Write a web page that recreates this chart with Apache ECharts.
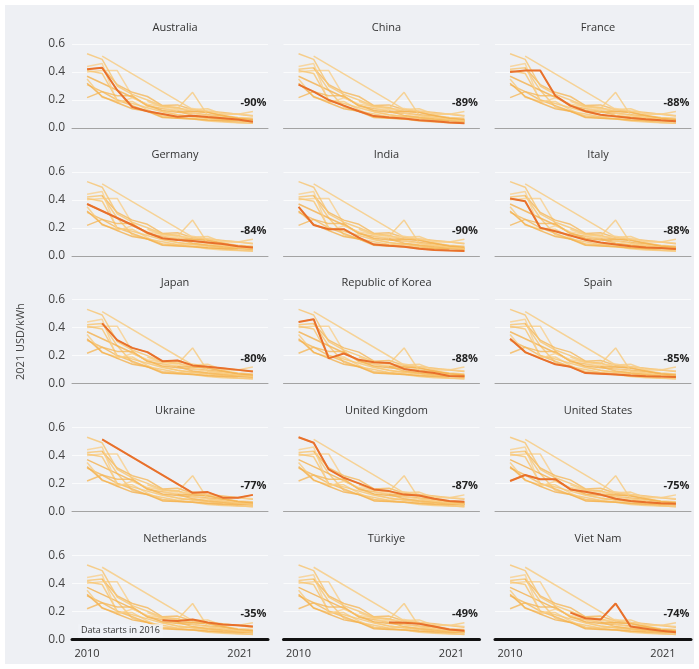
<!DOCTYPE html>
<html>
<head>
<meta charset="utf-8">
<script src="https://cdn.jsdelivr.net/npm/echarts@6/dist/echarts.min.js"></script>
<style>
html, body { margin: 0; padding: 0; background: #fff; }
#bg { position: absolute; left: 5px; top: 5px; width: 689px; height: 659px; background: #eef0f4; }
#chart { position: absolute; left: 0; top: 0; width: 699px; height: 669px; }
</style>
</head>
<body>
<div id="bg"></div>
<div id="chart"></div>
<script>
const years = [2010, 2011, 2012, 2013, 2014, 2015, 2016, 2017, 2018, 2019, 2020, 2021];

const countries = ['Australia', 'China', 'France', 'Germany', 'India', 'Italy', 'Japan',
    'Republic of Korea', 'Spain', 'Ukraine', 'United Kingdom', 'United States',
    'Netherlands', 'Türkiye', 'Viet Nam'];

// USD/kWh, 2010..2021 (null = no data)
const australia = [0.42, 0.43, 0.27, 0.15, 0.12, 0.10, 0.08, 0.088, 0.078, 0.07, 0.06, 0.045];
const china = [0.31, 0.26, 0.20, 0.16, 0.12, 0.085, 0.075, 0.068, 0.055, 0.048, 0.040, 0.034];
const france = [0.40, 0.41, 0.41, 0.23, 0.16, 0.12, 0.095, 0.083, 0.072, 0.063, 0.055, 0.048];
const germany = [0.37, 0.32, 0.27, 0.22, 0.165, 0.125, 0.113, 0.105, 0.095, 0.085, 0.068, 0.059];
const india = [0.35, 0.22, 0.19, 0.19, 0.13, 0.08, 0.072, 0.065, 0.05, 0.042, 0.038, 0.035];
const italy = [0.41, 0.39, 0.20, 0.175, 0.145, 0.115, 0.095, 0.08, 0.068, 0.06, 0.055, 0.049];
const japan = [null, 0.43, 0.31, 0.255, 0.225, 0.16, 0.165, 0.13, 0.12, 0.11, 0.098, 0.086];
const korea = [0.44, 0.46, 0.18, 0.215, 0.17, 0.153, 0.148, 0.105, 0.088, 0.076, 0.055, 0.053];
const spain = [0.32, 0.225, 0.18, 0.138, 0.12, 0.075, 0.07, 0.065, 0.058, 0.053, 0.05, 0.048];
const ukraine = [null, 0.514, null, null, null, null, null, 0.133, 0.138, 0.098, 0.098, 0.118];
const unitedKingdom = [0.53, 0.49, 0.30, 0.24, 0.20, 0.157, 0.145, 0.12, 0.114, 0.09, 0.075, 0.069];
const unitedStates = [0.217, 0.26, 0.23, 0.23, 0.157, 0.14, 0.12, 0.09, 0.075, 0.065, 0.058, 0.054];
const netherlands = [null, null, null, null, null, 0.135, 0.13, 0.14, 0.12, 0.105, 0.10, 0.09];
const turkiye = [null, null, null, null, null, null, 0.12, 0.118, 0.11, 0.09, 0.07, 0.061];
const vietNam = [null, null, null, null, 0.19, 0.15, 0.14, 0.255, 0.09, 0.075, 0.06, 0.05];

const values = [australia, china, france, germany, india, italy, japan, korea, spain,
    ukraine, unitedKingdom, unitedStates, netherlands, turkiye, vietNam];

const changeLabels = ['-90%', '-89%', '-88%', '-84%', '-90%', '-88%', '-80%', '-88%', '-85%',
    '-77%', '-87%', '-75%', '-35%', '-49%', '-74%'];

const notes = { Netherlands: 'Data starts in 2016' };

const lightColors = ['#f7c46f', '#f5b85a', '#f9d08c', '#f4b04c', '#f8ca7e'];
const highlight = '#e8702c';

const grids = [];
const xAxes = [];
const yAxes = [];
const titles = [];
const series = [];

countries.forEach((name, i) => {
    const row = Math.floor(i / 3);
    const col = i % 3;
    const left = 72 + col * 211.5;
    const top = 44 + row * 127.8;
    const bottomRow = row === 4;

    grids.push({ left: left, top: top, width: 196, height: 84 });

    titles.push({
        text: name,
        left: left + 98,
        top: top - 27,
        textAlign: 'center',
        textStyle: { fontSize: 11, fontWeight: 'normal', color: '#333', fontFamily: 'Open Sans' },
    });

    xAxes.push({
        gridIndex: i,
        type: 'value',
        min: 2009,
        max: 2022,
        interval: 1,
        axisLine: { show: true, lineStyle: { color: bottomRow ? '#111' : '#a3a3a3', width: bottomRow ? 3 : 1 } },
        axisTick: { show: false },
        splitLine: { show: false },
        axisLabel: {
            show: bottomRow,
            margin: 9,
            fontSize: 11,
            color: '#333',
            fontFamily: 'Open Sans',
            formatter: (v) => {
                if (v === 2010) return '2010';
                if (v === 2021) return '{r|2021}';
                return '';
            },
            rich: { r: { fontSize: 11, color: '#333', fontFamily: 'Open Sans', padding: [0, 26, 0, 0] } },
        },
    });

    yAxes.push({
        gridIndex: i,
        type: 'value',
        min: 0,
        max: 0.6,
        interval: 0.2,
        name: (i === 6) ? '2021 USD/kWh' : '',
        nameLocation: 'middle',
        nameGap: 46,
        nameRotate: 90,
        nameTextStyle: { fontSize: 11, color: '#444', fontFamily: 'Open Sans' },
        axisLine: { show: false },
        axisTick: { show: false },
        splitLine: { show: true, lineStyle: { color: '#fafbfc', width: 1 } },
        axisLabel: {
            show: col === 0,
            margin: 7,
            fontSize: 12,
            color: '#444',
            fontFamily: 'Open Sans',
            formatter: (v) => v.toFixed(1),
        },
    });

    values.forEach((vals, j) => {
        series.push({
            type: 'line',
            xAxisIndex: i,
            yAxisIndex: i,
            data: years.map((y, k) => [y, vals[k]]),
            showSymbol: false,
            connectNulls: true,
            silent: true,
            z: 2,
            lineStyle: { color: lightColors[j % lightColors.length], width: 1.5, opacity: 0.8 },
        });
    });

    const markData = [{
        coord: [2021.9, 0.18],
        label: { formatter: changeLabels[i], align: 'right', fontWeight: 'bold', fontSize: 11, color: '#222' },
    }];
    if (notes[name]) {
        markData.push({
            coord: [2009.4, 0.06],
            label: {
                formatter: notes[name], align: 'left', fontSize: 9, color: '#333',
                backgroundColor: 'rgba(240,242,246,0.92)', padding: [2, 3],
            },
        });
    }

    series.push({
        type: 'line',
        xAxisIndex: i,
        yAxisIndex: i,
        data: years.map((y, k) => [y, values[i][k]]),
        showSymbol: false,
        connectNulls: true,
        silent: true,
        z: 5,
        lineStyle: { color: highlight, width: 2 },
        markPoint: {
            symbol: 'rect',
            symbolSize: 0,
            silent: true,
            label: { show: true, position: 'inside', fontFamily: 'Open Sans' },
            data: markData,
        },
    });
});

const chart = echarts.init(document.getElementById('chart'));
chart.setOption({
    animation: false,
    title: titles,
    grid: grids,
    xAxis: xAxes,
    yAxis: yAxes,
    series: series,
});
</script>
</body>
</html>
